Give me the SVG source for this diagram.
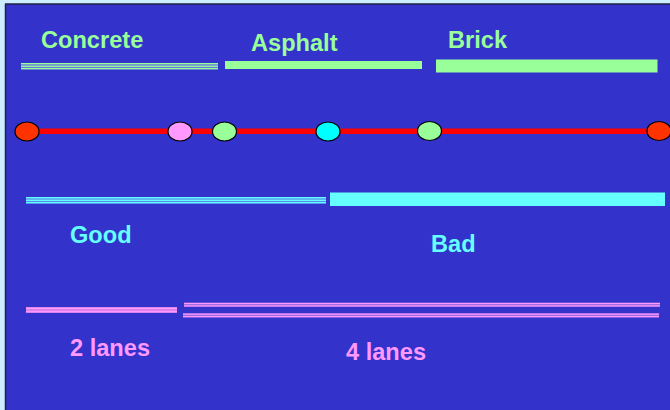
<svg xmlns="http://www.w3.org/2000/svg" width="670" height="410" viewBox="0 0 670 410">
<style>
.t{font-family:"Liberation Sans",Arial,sans-serif;font-weight:bold;font-size:23.6px}
.g{fill:#99FF99}.c{fill:#66FFFF}.p{fill:#FF99FF}
.node{stroke:#000;stroke-width:1.2}
</style>
<rect x="0" y="0" width="670" height="410" fill="#CCEEFF"/>
<rect x="6" y="4" width="664" height="406" fill="#3333CC"/>
<line x1="5.5" y1="4" x2="5.5" y2="410" stroke="#222244" stroke-width="1.5"/>
<line x1="5" y1="4" x2="670" y2="4" stroke="#222244" stroke-width="1.5"/>

<g id="surface">
  <g id="concrete">
    <rect x="21" y="63" width="197" height="6.5" fill="#6677DD"/>
    <rect x="21" y="63" width="197" height="1.3" fill="#99FF99"/>
    <rect x="21" y="65.6" width="197" height="1.3" fill="#99FF99"/>
    <rect x="21" y="68" width="197" height="1.3" fill="#99FF99"/>
    <text class="t g" x="41" y="48">Concrete</text>
  </g>
  <g id="asphalt">
    <rect x="225" y="61" width="197" height="8" fill="#99FF99"/>
    <text class="t g" x="251" y="51">Asphalt</text>
  </g>
  <g id="brick">
    <rect x="436" y="59.5" width="221.5" height="13" fill="#99FF99"/>
    <text class="t g" x="448" y="48">Brick</text>
  </g>
</g>

<g id="connectors">
  <line x1="27" y1="131.3" x2="659" y2="131.3" stroke="#FF0000" stroke-width="5.5"/>
</g>

<g id="points">
  <ellipse id="p1" class="node" cx="27" cy="131.5" rx="12" ry="9.5" fill="#FF3300"/>
  <ellipse id="p2" class="node" cx="180" cy="131.5" rx="12" ry="9.5" fill="#FF99FF"/>
  <ellipse id="p3" class="node" cx="224.5" cy="131.5" rx="12" ry="9.5" fill="#99FF99"/>
  <ellipse id="p4" class="node" cx="328" cy="131.5" rx="12" ry="9.5" fill="#00FFFF"/>
  <ellipse id="p5" class="node" cx="429.5" cy="131" rx="12" ry="9.5" fill="#99FF99"/>
  <ellipse id="p6" class="node" cx="659" cy="131" rx="12" ry="9.5" fill="#FF3300"/>
</g>

<g id="condition">
  <g id="good">
    <rect x="26" y="197" width="300" height="6.5" fill="#5588EE"/>
    <rect x="26" y="197" width="300" height="1.4" fill="#66FFFF"/>
    <rect x="26" y="199.6" width="300" height="1.4" fill="#66FFFF"/>
    <rect x="26" y="202" width="300" height="1.4" fill="#66FFFF"/>
    <text class="t c" x="70" y="243">Good</text>
  </g>
  <g id="bad">
    <rect x="330" y="192.5" width="335" height="13.5" fill="#66FFFF"/>
    <text class="t c" x="431" y="252">Bad</text>
  </g>
</g>

<g id="lanes">
  <g id="two-lanes">
    <rect x="26" y="307.3" width="151" height="5.4" fill="#CC77DD"/>
    <rect x="26" y="307.3" width="151" height="2" fill="#FF99FF"/>
    <rect x="26" y="310.6" width="151" height="2" fill="#FF99FF"/>
    <text class="t p" x="70" y="356">2 lanes</text>
  </g>
  <g id="four-lanes">
    <rect x="184" y="302.8" width="476" height="3.8" fill="#9966DD"/>
    <rect x="184" y="302.8" width="476" height="1.3" fill="#FF99FF"/>
    <rect x="184" y="305.3" width="476" height="1.3" fill="#FF99FF"/>
    <rect x="183" y="313.5" width="476" height="3.8" fill="#9966DD"/>
    <rect x="183" y="313.5" width="476" height="1.3" fill="#FF99FF"/>
    <rect x="183" y="316" width="476" height="1.3" fill="#FF99FF"/>
    <text class="t p" x="346" y="360">4 lanes</text>
  </g>
</g>
</svg>
